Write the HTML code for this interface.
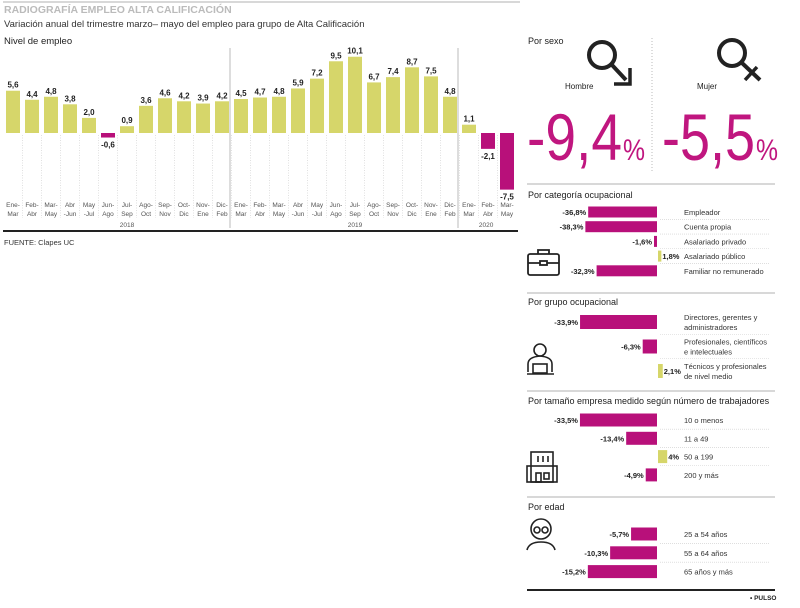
<!DOCTYPE html>
<html><head><meta charset="utf-8">
<style>
body{margin:0;background:#fff;font-family:"Liberation Sans",sans-serif;}
svg text{font-family:"Liberation Sans",sans-serif;}
</style></head>
<body>
<svg width="800" height="603" viewBox="0 0 800 603" xmlns="http://www.w3.org/2000/svg">
<line x1="3" y1="2" x2="520" y2="2" stroke="#ccc" stroke-width="1.5"/>
<text x="4" y="13" font-size="10.5" font-weight="bold" fill="#bbb">RADIOGRAFÍA EMPLEO ALTA CALIFICACIÓN</text>
<text x="4" y="27" font-size="9.5" fill="#333">Variación anual del trimestre marzo– mayo del empleo para grupo de Alta Calificación</text>
<text x="4" y="44" font-size="9.5" fill="#222">Nivel de empleo</text>
<g id="chart"></g>
<line x1="230" y1="48" x2="230" y2="228" stroke="#aaa" stroke-width="0.8"/>
<line x1="458" y1="48" x2="458" y2="228" stroke="#aaa" stroke-width="0.8"/>
<line x1="3" y1="231" x2="518" y2="231" stroke="#222" stroke-width="2"/>
<text x="4" y="245" font-size="7.5" fill="#333">FUENTE: Clapes UC</text>

<g>
<text x="528" y="44" font-size="9" fill="#222">Por sexo</text>
<line x1="652" y1="38" x2="652" y2="172" stroke="#bbb" stroke-dasharray="1,2"/>
<g fill="none" stroke="#222" stroke-width="4">
<circle cx="602" cy="55" r="13"/><line x1="612" y1="65" x2="626" y2="80"/><path d="M614 84 L630 84 L630 68" stroke-width="3.5"/>
</g>
<g fill="none" stroke="#222" stroke-width="4">
<circle cx="732" cy="53" r="13"/><line x1="742" y1="63" x2="760" y2="80"/><line x1="745" y1="80" x2="757" y2="67" stroke-width="3.5"/>
</g>
<text x="565" y="89" font-size="8" fill="#222">Hombre</text>
<text x="697" y="89" font-size="8" fill="#222">Mujer</text>
<text x="527" y="160" font-size="66" fill="#c0167f" textLength="95" lengthAdjust="spacingAndGlyphs">-9,4</text>
<text x="623" y="160" font-size="30" fill="#c0167f" textLength="22" lengthAdjust="spacingAndGlyphs">%</text>
<text x="662" y="160" font-size="66" fill="#c0167f" textLength="93" lengthAdjust="spacingAndGlyphs">-5,5</text>
<text x="756" y="160" font-size="30" fill="#c0167f" textLength="22" lengthAdjust="spacingAndGlyphs">%</text>
<line x1="527" y1="184" x2="775" y2="184" stroke="#ccc" stroke-width="1.5"/>
</g>
<text x="528" y="198" font-size="9" fill="#222">Por categoría ocupacional</text>
<line x1="527" y1="293" x2="775" y2="293" stroke="#ccc" stroke-width="1.5"/>
<text x="528" y="305" font-size="9" fill="#222">Por grupo ocupacional</text>
<line x1="527" y1="391" x2="775" y2="391" stroke="#ccc" stroke-width="1.5"/>
<text x="528" y="404" font-size="9" fill="#222">Por tamaño empresa medido según número de trabajadores</text>
<line x1="527" y1="497" x2="775" y2="497" stroke="#ccc" stroke-width="1.5"/>
<text x="528" y="510" font-size="9" fill="#222">Por edad</text>
<line x1="527" y1="590" x2="775" y2="590" stroke="#222" stroke-width="2"/>
<text x="750" y="600" font-size="6.5" font-weight="bold" fill="#222">• PULSO</text>

<g fill="none" stroke="#222" stroke-width="1.8">
<rect x="528" y="254" width="31" height="21" rx="2"/><path d="M538 254 v-4 h11 v4"/><path d="M528 263 h31"/><rect x="540" y="261" width="7" height="4" fill="#fff"/>
</g>
<g fill="none" stroke="#222" stroke-width="1.6">
<circle cx="540" cy="350" r="6"/><path d="M528 372 v-8 q0-7 12-8 q12 1 12 8 v8"/><rect x="533" y="364" width="14" height="9" fill="#fff"/><line x1="527" y1="374" x2="554" y2="374"/>
</g>
<g fill="none" stroke="#222" stroke-width="1.6">
<rect x="531" y="452" width="22" height="30"/><rect x="527" y="466" width="30" height="16"/><rect x="536" y="473" width="5" height="9"/><rect x="544" y="473" width="5" height="6"/>
<line x1="538" y1="456" x2="538" y2="462"/><line x1="543" y1="456" x2="543" y2="462"/><line x1="548" y1="456" x2="548" y2="462"/>
</g>
<g fill="none" stroke="#222" stroke-width="1.6">
<circle cx="541" cy="529" r="10"/><circle cx="537" cy="530" r="3"/><circle cx="545" cy="530" r="3"/><path d="M527 550 q2-8 14-8 q12 0 14 8"/>
</g>
<g id="hbars"></g>
</svg>
<script>
const NS="http://www.w3.org/2000/svg";
const months=["Ene-|Mar","Feb-|Abr","Mar-|May","Abr|-Jun","May|-Jul","Jun-|Ago","Jul-|Sep","Ago-|Oct","Sep-|Nov","Oct-|Dic","Nov-|Ene","Dic-|Feb","Ene-|Mar","Feb-|Abr","Mar-|May","Abr|-Jun","May|-Jul","Jun-|Ago","Jul-|Sep","Ago-|Oct","Sep-|Nov","Oct-|Dic","Nov-|Ene","Dic-|Feb","Ene-|Mar","Feb-|Abr","Mar-|May"];
const values=[5.6,4.4,4.8,3.8,2.0,-0.6,0.9,3.6,4.6,4.2,3.9,4.2,4.5,4.7,4.8,5.9,7.2,9.5,10.1,6.7,7.4,8.7,7.5,4.8,1.1,-2.1,-7.5];
const years=["2018","2019","2020"];
const yearIdx=[6,18,24.9];
const YEL="#d6d66a",MAG="#b8107a";
const x0=13,step=19,zeroY=133,unit=7.55,bw=14;
const xs=i=>x0+step*i;
const ys=v=>zeroY-v*unit;
const g=document.getElementById("chart");
function mk(tag,attrs,parent){const e=document.createElementNS(NS,tag);for(const k in attrs)e.setAttribute(k,attrs[k]);(parent||g).appendChild(e);return e;}
values.forEach((v,i)=>{
  const cx=xs(i);
  if(i>0){const l=mk("line",{x1:cx-step/2,y1:135,x2:cx-step/2,y2:218,stroke:"#ccc","stroke-width":0.6,"stroke-dasharray":"1,1.5"});
  
  }
  const r=mk("rect",{x:cx-bw/2,y:Math.min(ys(v),zeroY),width:bw,height:Math.abs(ys(v)-zeroY),fill:v>=0?YEL:MAG});
  
  
  const t=mk("text",{x:cx,y:v>=0?ys(v)-3:ys(v)+10,"font-size":8,"font-weight":"bold","text-anchor":"middle",fill:"#222"});
  t.textContent=v.toFixed(1).replace(".",",");
  
  
  const parts=months[i].split("|");
  parts.forEach((p,j)=>{const m=mk("text",{x:cx,y:207+j*9,"font-size":6.5,"text-anchor":"middle",fill:"#555"});m.textContent=p;
  
  });
});
years.forEach((y,k)=>{const t=mk("text",{x:xs(yearIdx[k]),y:227,"font-size":6.5,"text-anchor":"middle",fill:"#555"});t.textContent=y;

});

const catLabels=["Empleador","Cuenta propia","Asalariado privado","Asalariado público","Familiar no remunerado"];
const catValues=[-36.8,-38.3,-1.6,1.8,-32.3];
const grpLabels=["Directores, gerentes y|administradores","Profesionales, científicos|e intelectuales","Técnicos y profesionales|de nivel medio"];
const grpValues=[-33.9,-6.3,2.1];
const sizeLabels=["10 o menos","11 a 49","50 a 199","200 y más"];
const sizeValues=[-33.5,-13.4,4,-4.9];
const ageLabels=["25 a 54 años","55 a 64 años","65 años y más"];
const ageValues=[-5.7,-10.3,-15.2];
const hb=document.getElementById("hbars");
const zx=657;
function section(labels,vals,y0,dy,h,scale,name){
  vals.forEach((v,i)=>{
    const cy=y0+dy*i;
    const w=Math.abs(v)*scale;
    const r=mk("rect",{x:v<0?zx-w:zx+1,y:cy-h/2,width:Math.max(w,2.5),height:h,fill:v<0?MAG:YEL},hb);
    
    
    const t=mk("text",{x:v<0?zx-w-2:zx+Math.max(w,2.5)+2,y:cy+3,"font-size":7.5,"font-weight":"bold","text-anchor":v<0?"end":"start",fill:"#222"},hb);
    t.textContent=String(v).replace(".",",")+"%";
    
    
    const parts=labels[i].split("|");
    parts.forEach((p,j)=>{const l=mk("text",{x:684,y:cy+3+(j-(parts.length-1)/2)*10,"font-size":7.5,fill:"#333"},hb);l.textContent=p;
    
    });
    if(i<vals.length-1){const d=mk("line",{x1:660,y1:cy+dy/2,x2:770,y2:cy+dy/2,stroke:"#ccc","stroke-width":0.6,"stroke-dasharray":"1,1"},hb);
    
    }
  });
}
section(catLabels,catValues,212,14.7,11,1.87,"category");
section(grpLabels,grpValues,322,24.5,14,2.27,"group");
section(sizeLabels,sizeValues,420,18.3,13,2.3,"size");
section(ageLabels,ageValues,534,18.8,13,4.55,"age");
</script>
</body></html>
